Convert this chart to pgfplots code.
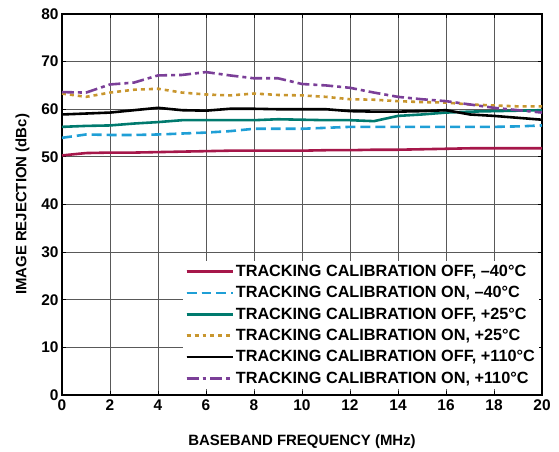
\documentclass[border=0pt]{standalone}
\usepackage{fontspec}
\setmainfont{Liberation Sans}
\usepackage{pgfplots}
\pgfplotsset{compat=1.18}
\definecolor{cred}{HTML}{A6174A}
\definecolor{cblue}{HTML}{1F9FD6}
\definecolor{cteal}{HTML}{007A6E}
\definecolor{cgold}{HTML}{C8962E}
\definecolor{cpurple}{HTML}{7B3F98}
\begin{document}
\begin{tikzpicture}
\begin{axis}[
  scale only axis,
  width=480bp, height=381bp,
  xmin=0, xmax=20, ymin=0, ymax=80,
  xtick={0,2,...,20}, ytick={0,10,...,80},
  grid=major,
  grid style={draw=black!65, line width=0.9pt},
  axis line style={line width=1.3pt},
  tick align=inside,
  major tick length=4pt,
  tick style={black, line width=0.8pt},
  /pgf/number format/assume math mode=true,
  ticklabel style={font=\fontsize{15.5}{18}\selectfont\bfseries},
  xticklabel style={yshift=-1pt},
  xlabel={BASEBAND FREQUENCY (MHz)},
  ylabel={IMAGE REJECTION (dBc)},
  label style={font=\fontsize{15}{18}\selectfont\bfseries},
  xlabel style={yshift=-17pt},
  ylabel style={yshift=5pt},
  legend style={at={(1,0)}, anchor=south east, xshift=-3pt, yshift=6pt,
    draw=none, fill=white, font=\fontsize{16.3}{18}\selectfont\bfseries,
    row sep=4.6pt, inner sep=2pt},
  legend cell align=left,
  legend image code/.code={\draw[#1] (0bp,0bp) -- (37bp,0bp); \path (0bp,0bp) -- (46bp,0bp);},
  every axis plot/.append style={line width=2.6pt},
]
\addplot[cred] coordinates {(0,50.3)(1,50.8)(2,50.9)(3,50.9)(4,51.0)(5,51.1)(6,51.2)(7,51.3)(8,51.3)(9,51.3)(10,51.3)(11,51.4)(12,51.4)(13,51.5)(14,51.5)(15,51.6)(16,51.7)(17,51.8)(18,51.8)(19,51.8)(20,51.8)};
\addlegendentry{TRACKING CALIBRATION OFF, –40°C}
\addplot[cblue, dash pattern=on 10pt off 5pt] coordinates {(0,54.0)(1,54.7)(2,54.6)(3,54.6)(4,54.7)(5,54.9)(6,55.1)(7,55.4)(8,55.9)(9,55.9)(10,55.9)(11,56.1)(12,56.3)(13,56.3)(14,56.3)(15,56.3)(16,56.3)(17,56.3)(18,56.3)(19,56.4)(20,56.6)};
\addlegendentry{TRACKING CALIBRATION ON, –40°C}
\addplot[cteal] coordinates {(0,56.3)(1,56.5)(2,56.6)(3,57.0)(4,57.3)(5,57.7)(6,57.7)(7,57.7)(8,57.7)(9,57.9)(10,57.8)(11,57.7)(12,57.7)(13,57.5)(14,58.6)(15,58.9)(16,59.3)(17,59.5)(18,59.6)(19,59.7)(20,59.8)};
\addlegendentry{TRACKING CALIBRATION OFF, +25°C}
\addplot[cgold, dash pattern=on 4pt off 4pt] coordinates {(0,63.3)(1,62.6)(2,63.5)(3,64.1)(4,64.3)(5,63.5)(6,63.1)(7,62.9)(8,63.3)(9,63.0)(10,62.9)(11,62.6)(12,62.1)(13,62.0)(14,61.7)(15,61.5)(16,61.4)(17,61.0)(18,60.8)(19,60.6)(20,60.6)};
\addlegendentry{TRACKING CALIBRATION ON, +25°C}
\addplot[black] coordinates {(0,58.9)(1,59.1)(2,59.3)(3,59.8)(4,60.3)(5,59.8)(6,59.7)(7,60.1)(8,60.1)(9,60.0)(10,60.0)(11,60.0)(12,59.6)(13,59.5)(14,59.5)(15,59.6)(16,59.8)(17,58.9)(18,58.6)(19,58.2)(20,57.8)};
\addlegendentry{TRACKING CALIBRATION OFF, +110°C}
\addplot[cpurple, dash pattern=on 12pt off 4pt on 4pt off 4pt] coordinates {(0,63.6)(1,63.5)(2,65.2)(3,65.6)(4,67.1)(5,67.2)(6,67.8)(7,67.1)(8,66.5)(9,66.5)(10,65.3)(11,65.0)(12,64.5)(13,63.5)(14,62.6)(15,62.1)(16,61.7)(17,61.0)(18,60.3)(19,59.8)(20,59.3)};
\addlegendentry{TRACKING CALIBRATION ON, +110°C}
\end{axis}
\pgfresetboundingbox
\path ([shift={(-62bp,-57bp)}]current axis.south west) rectangle ([shift={(17bp,14bp)}]current axis.north east);
\end{tikzpicture}
\end{document}
